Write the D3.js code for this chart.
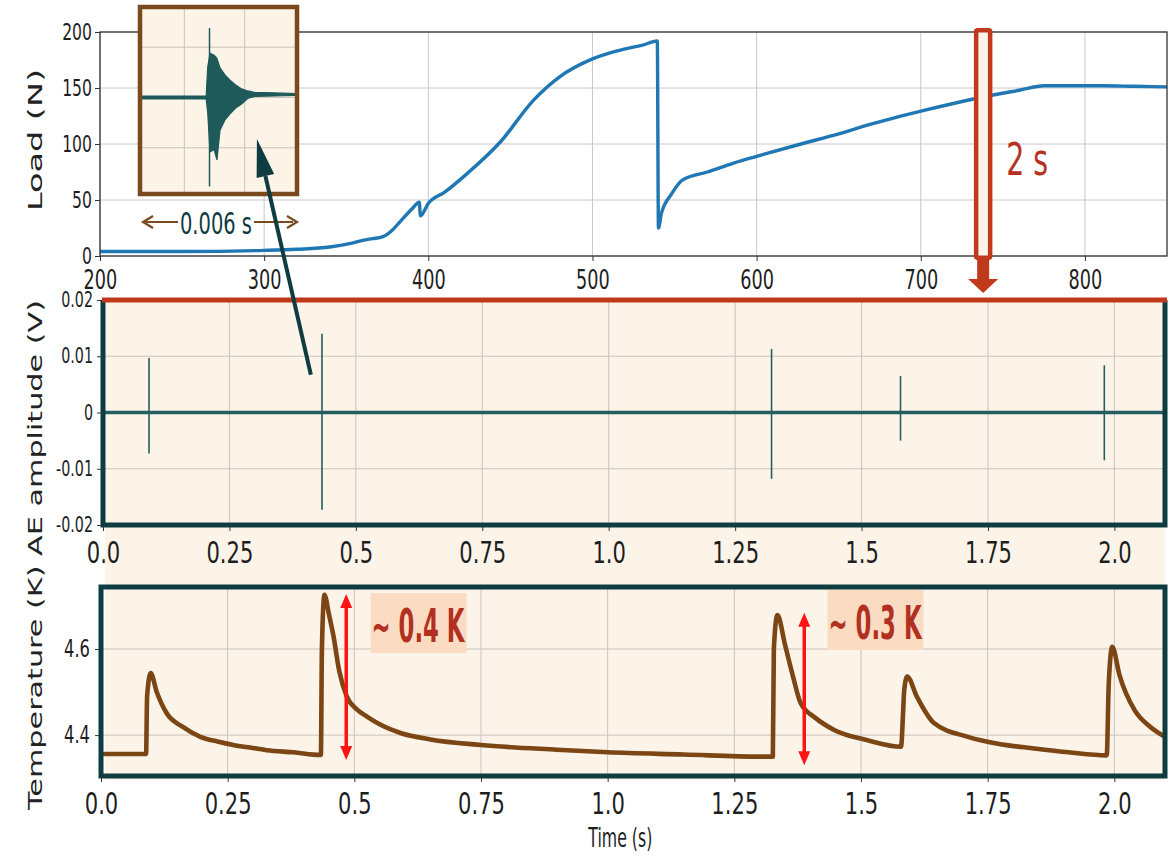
<!DOCTYPE html>
<html>
<head>
<meta charset="utf-8">
<script src="https://cdn.jsdelivr.net/npm/d3@7"></script>
<style>
    body { margin: 0; background: #fff; }
    svg { display: block; font-family: "DejaVu Sans", sans-serif; }
</style>
</head>
<body>
<svg id="chart" width="1175" height="856"></svg>
<script>
"use strict";

// load curve (time in s, load in N)
const loadTime = [200, 250, 300, 320, 340, 352, 360, 366, 372, 378, 383, 390, 394.5, 395.2, 400, 410, 424, 444, 464, 480, 500, 520, 530, 539.5, 540.2, 542, 548, 555, 570, 586, 600, 627, 650, 668, 702, 738, 760, 775, 790, 810, 830, 850];
const loadValue = [4, 4, 5, 6, 8, 11, 14, 15.5, 17, 23, 31, 42, 48, 36, 47, 57, 74, 102, 139, 160, 176, 185, 188, 192, 25, 38, 55, 68, 75, 83, 89, 100, 109, 117, 130, 142, 148, 152, 152, 152, 151.5, 151];
const loadXTicks = [200, 300, 400, 500, 600, 700, 800];
const loadXLabels = ["200", "300", "400", "500", "600", "700", "800"];
const loadYTicks = [0, 50, 100, 150, 200];
const loadYLabels = ["0", "50", "100", "150", "200"];

// AE hits in the 2 s window (time, positive peak, negative peak in V)
const aeHitTime = [0.091, 0.433, 1.322, 1.577, 1.980];
const aeHitUp = [0.0097, 0.0140, 0.0113, 0.0065, 0.0084];
const aeHitDown = [-0.0073, -0.0173, -0.0118, -0.0050, -0.0085];
const aeYTicks = [-0.02, -0.01, 0, 0.01, 0.02];
const aeYLabels = ["-0.02", "-0.01", "0", "0.01", "0.02"];

// shared time ticks for the two lower panels
const timeTicks = [0, 0.25, 0.5, 0.75, 1.0, 1.25, 1.5, 1.75, 2.0];
const timeLabels = ["0.0", "0.25", "0.5", "0.75", "1.0", "1.25", "1.5", "1.75", "2.0"];

// temperature trace (time in s, temperature in K)
const tempTime = [0, 0.05, 0.089, 0.091, 0.098, 0.11, 0.13, 0.16, 0.196, 0.23, 0.261, 0.3, 0.327, 0.38, 0.434, 0.436, 0.441, 0.45, 0.459, 0.47, 0.485, 0.505, 0.525, 0.55, 0.591, 0.65, 0.75, 0.9, 1.0, 1.15, 1.3, 1.326, 1.328, 1.335, 1.35, 1.365, 1.381, 1.41, 1.447, 1.513, 1.579, 1.583, 1.585, 1.591, 1.61, 1.644, 1.711, 1.77, 1.842, 1.91, 1.985, 1.989, 1.996, 2.01, 2.04, 2.07, 2.1];
const tempValue = [4.356, 4.356, 4.356, 4.49, 4.544, 4.5, 4.45, 4.42, 4.396, 4.385, 4.377, 4.37, 4.365, 4.36, 4.354, 4.6, 4.726, 4.68, 4.629, 4.55, 4.49, 4.46, 4.443, 4.425, 4.405, 4.39, 4.377, 4.366, 4.36, 4.355, 4.35, 4.35, 4.6, 4.679, 4.61, 4.54, 4.474, 4.44, 4.412, 4.388, 4.373, 4.45, 4.5, 4.536, 4.49, 4.428, 4.396, 4.38, 4.369, 4.36, 4.353, 4.52, 4.605, 4.54, 4.458, 4.42, 4.396];
const tempYTicks = [4.4, 4.6];
const tempYLabels = ["4.4", "4.6"];

// inset: one AE burst, envelope of the waveform (time in s, V)
const burstTime = [0, 0.0025, 0.00256, 0.00265, 0.00281, 0.00292, 0.00304, 0.00323, 0.00342, 0.00365, 0.00388, 0.00412, 0.00438, 0.0052, 0.006];
const burstUp = [0.0003, 0.0003, 0.006, 0.0088, 0.0084, 0.0078, 0.0059, 0.0045, 0.0035, 0.0025, 0.0017, 0.0013, 0.0010, 0.0009, 0.0008];
const burstDown = [-0.0003, -0.0003, -0.003, -0.0108, -0.0104, -0.0124, -0.0065, -0.0045, -0.0033, -0.0021, -0.0013, -0.0002, 0.0002, 0.0003, 0.0004];
const burstSpike = { t: 0.00263, up: 0.0138, down: -0.0177 };

const svg = d3.select("#chart");
const teal = "#0f3c40";
const red = "#c0391b";
const peach = "#fdf4e9";
const grid = "#c9c3bc";
const squeezeK = 0.68;

// the figure is horizontally compressed: shrink text width only
function squeeze(sel, k) {
    sel.each(function () {
        const w = this.getComputedTextLength();
        d3.select(this)
            .attr("textLength", w * k)
            .attr("lengthAdjust", "spacingAndGlyphs");
    });
}

function styleAxis(g, size) {
    g.select(".domain").remove();
    g.selectAll("text")
        .attr("fill", "#1e1e1e")
        .style("font-size", `${size}px`)
        .style("font-family", "DejaVu Sans");
    g.selectAll("line").attr("stroke", "#333");
    squeeze(g.selectAll("text"), squeezeK);
}

// peach background behind the zoomed panels
svg.append("rect")
    .attr("x", 105).attr("y", 298)
    .attr("width", 1060).attr("height", 482)
    .attr("fill", peach);

// ---------- top panel: load ----------
const xLoad = d3.scaleLinear().domain([200, 850]).range([100, 1167]);
const yLoad = d3.scaleLinear().domain([0, 200]).range([256, 32]);

const loadPanel = svg.append("g");
loadPanel.append("g")
    .selectAll("line")
    .data(loadXTicks)
    .join("line")
    .attr("x1", d => xLoad(d)).attr("x2", d => xLoad(d))
    .attr("y1", yLoad(0)).attr("y2", yLoad(200))
    .attr("stroke", "#c8c8c8");
loadPanel.append("g")
    .selectAll("line")
    .data(loadYTicks)
    .join("line")
    .attr("x1", xLoad(200)).attr("x2", xLoad(850))
    .attr("y1", d => yLoad(d)).attr("y2", d => yLoad(d))
    .attr("stroke", "#c8c8c8");

loadPanel.append("path")
    .datum(loadTime.map((t, i) => [t, loadValue[i]]))
    .attr("fill", "none")
    .attr("stroke", "#1f77b4")
    .attr("stroke-width", 3.4)
    .attr("stroke-linejoin", "round")
    .attr("d", d3.line().curve(d3.curveMonotoneX)
        .x(d => xLoad(d[0])).y(d => yLoad(d[1])));

loadPanel.append("rect")
    .attr("x", xLoad(200)).attr("y", yLoad(200))
    .attr("width", xLoad(850) - xLoad(200))
    .attr("height", yLoad(0) - yLoad(200))
    .attr("fill", "none")
    .attr("stroke", "#333")
    .attr("stroke-width", 1.3);

loadPanel.append("g")
    .attr("transform", `translate(0,${yLoad(0)})`)
    .call(d3.axisBottom(xLoad).tickValues(loadXTicks)
        .tickFormat((d, i) => loadXLabels[i]).tickSize(5).tickPadding(10))
    .call(g => styleAxis(g, 26));
loadPanel.append("g")
    .attr("transform", `translate(${xLoad(200)},0)`)
    .call(d3.axisLeft(yLoad).tickValues(loadYTicks)
        .tickFormat((d, i) => loadYLabels[i]).tickSize(5).tickPadding(3))
    .call(g => styleAxis(g, 23));

// ---------- middle panel: AE amplitude ----------
const xAE = d3.scaleLinear().domain([0, 2.1]).range([103, 1165]);
const yAE = d3.scaleLinear().domain([-0.02, 0.02]).range([525, 300]);

const aePanel = svg.append("g");
aePanel.append("g")
    .selectAll("line")
    .data(timeTicks)
    .join("line")
    .attr("x1", d => xAE(d)).attr("x2", d => xAE(d))
    .attr("y1", yAE(-0.02)).attr("y2", yAE(0.02))
    .attr("stroke", grid);
aePanel.append("g")
    .selectAll("line")
    .data(aeYTicks)
    .join("line")
    .attr("x1", xAE(0)).attr("x2", xAE(2.1))
    .attr("y1", d => yAE(d)).attr("y2", d => yAE(d))
    .attr("stroke", grid);

aePanel.append("line")
    .attr("x1", xAE(0)).attr("x2", xAE(2.1))
    .attr("y1", yAE(0)).attr("y2", yAE(0))
    .attr("stroke", "#245e5e")
    .attr("stroke-width", 3.5);
aePanel.append("g")
    .selectAll("line")
    .data(aeHitTime)
    .join("line")
    .attr("x1", d => xAE(d)).attr("x2", d => xAE(d))
    .attr("y1", (d, i) => yAE(aeHitUp[i]))
    .attr("y2", (d, i) => yAE(aeHitDown[i]))
    .attr("stroke", "#245e5e")
    .attr("stroke-width", 1.6);

aePanel.append("path")
    .attr("d", `M${xAE(0)},${yAE(0.02)}V${yAE(-0.02)}H${xAE(2.1)}V${yAE(0.02)}`)
    .attr("fill", "none")
    .attr("stroke", teal)
    .attr("stroke-width", 5);
aePanel.append("line")
    .attr("x1", xAE(0) - 1).attr("x2", xAE(2.1) + 2)
    .attr("y1", yAE(0.02)).attr("y2", yAE(0.02))
    .attr("stroke", red)
    .attr("stroke-width", 5);

aePanel.append("g")
    .attr("transform", `translate(0,${yAE(-0.02) + 2})`)
    .call(d3.axisBottom(xAE).tickValues(timeTicks)
        .tickFormat((d, i) => timeLabels[i]).tickSize(4).tickPadding(10))
    .call(g => styleAxis(g, 31));
aePanel.append("g")
    .attr("transform", `translate(${xAE(0) - 2},0)`)
    .call(d3.axisLeft(yAE).tickValues(aeYTicks)
        .tickFormat((d, i) => aeYLabels[i]).tickSize(4).tickPadding(4))
    .call(g => styleAxis(g, 21));

// ---------- bottom panel: temperature ----------
const xT = d3.scaleLinear().domain([0, 2.1]).range([101, 1165]);
const yT = d3.scaleLinear().domain([4.305, 4.744]).range([776, 587]);

const tempPanel = svg.append("g");
tempPanel.append("g")
    .selectAll("line")
    .data(timeTicks)
    .join("line")
    .attr("x1", d => xT(d)).attr("x2", d => xT(d))
    .attr("y1", yT(4.305)).attr("y2", yT(4.744))
    .attr("stroke", grid);
tempPanel.append("g")
    .selectAll("line")
    .data(tempYTicks)
    .join("line")
    .attr("x1", xT(0)).attr("x2", xT(2.1))
    .attr("y1", d => yT(d)).attr("y2", d => yT(d))
    .attr("stroke", grid);

tempPanel.append("path")
    .datum(tempTime.map((t, i) => [t, tempValue[i]]))
    .attr("fill", "none")
    .attr("stroke", "#7b4514")
    .attr("stroke-width", 4.6)
    .attr("stroke-linejoin", "round")
    .attr("d", d3.line().curve(d3.curveMonotoneX)
        .x(d => xT(d[0])).y(d => yT(d[1])));

tempPanel.append("rect")
    .attr("x", xT(0)).attr("y", yT(4.744))
    .attr("width", xT(2.1) - xT(0))
    .attr("height", yT(4.305) - yT(4.744))
    .attr("fill", "none")
    .attr("stroke", teal)
    .attr("stroke-width", 5);

tempPanel.append("g")
    .attr("transform", `translate(0,${yT(4.305) + 2})`)
    .call(d3.axisBottom(xT).tickValues(timeTicks)
        .tickFormat((d, i) => timeLabels[i]).tickSize(4).tickPadding(10))
    .call(g => styleAxis(g, 31));
tempPanel.append("g")
    .attr("transform", `translate(${xT(0) - 2},0)`)
    .call(d3.axisLeft(yT).tickValues(tempYTicks)
        .tickFormat((d, i) => tempYLabels[i]).tickSize(4).tickPadding(5))
    .call(g => styleAxis(g, 24));

// temperature jump annotations
function doubleArrow(x, y1, y2) {
    const g = svg.append("g").attr("fill", "#ff1414").attr("stroke", "#ff1414");
    g.append("line")
        .attr("x1", x).attr("x2", x)
        .attr("y1", y1 + 10).attr("y2", y2 - 10)
        .attr("stroke-width", 3.5);
    g.append("path")
        .attr("stroke", "none")
        .attr("d", `M${x},${y1}L${x - 6},${y1 + 14}L${x + 6},${y1 + 14}Z`);
    g.append("path")
        .attr("stroke", "none")
        .attr("d", `M${x},${y2}L${x - 6},${y2 - 14}L${x + 6},${y2 - 14}Z`);
}
doubleArrow(xT(0.484), yT(4.728), yT(4.342));
doubleArrow(xT(1.388), yT(4.684), yT(4.33));

function jumpLabel(t, v, text) {
    const x0 = xT(t), y0 = yT(v);
    svg.append("rect")
        .attr("x", x0).attr("y", y0)
        .attr("width", 96).attr("height", 60)
        .attr("fill", "#fbdcc3");
    svg.append("text")
        .attr("x", x0 + 1).attr("y", y0 + 49)
        .attr("fill", "#b2301f")
        .attr("font-weight", "bold")
        .attr("font-size", 46)
        .attr("textLength", 93)
        .attr("lengthAdjust", "spacingAndGlyphs")
        .text(text);
}
jumpLabel(0.532, 4.73, "~ 0.4 K");
jumpLabel(1.434, 4.737, "~ 0.3 K");

// ---------- 2 s window marker on the load curve ----------
const winX = xLoad(738);
svg.append("rect")
    .attr("x", winX - 7).attr("y", yLoad(201.5))
    .attr("width", 14).attr("height", yLoad(-1.5) - yLoad(201.5))
    .attr("rx", 1.5)
    .attr("fill", peach)
    .attr("stroke", red)
    .attr("stroke-width", 4.5);
svg.append("path")
    .attr("fill", red)
    .attr("d", `M${winX - 6},260V279H${winX - 15}L${winX},293L${winX + 15},279H${winX + 6}V260Z`);
svg.append("text")
    .attr("x", winX + 23).attr("y", yLoad(72))
    .attr("fill", "#b5311f")
    .attr("font-size", 44)
    .attr("textLength", 42)
    .attr("lengthAdjust", "spacingAndGlyphs")
    .text("2 s");

// ---------- inset: single AE burst ----------
const xIn = d3.scaleLinear().domain([0, 0.006]).range([142, 296]);
const yIn = d3.scaleLinear().domain([-0.0192, 0.018]).range([194, 7]);

const inset = svg.append("g");
inset.append("rect")
    .attr("x", 140).attr("y", 7)
    .attr("width", 157).attr("height", 187)
    .attr("fill", "#fdf4e8");
inset.append("g")
    .selectAll("line")
    .data([0.00165, 0.004])
    .join("line")
    .attr("x1", d => xIn(d)).attr("x2", d => xIn(d))
    .attr("y1", 7).attr("y2", 194)
    .attr("stroke", grid);
inset.append("g")
    .selectAll("line")
    .data([0.01, 0, -0.01])
    .join("line")
    .attr("x1", 140).attr("x2", 297)
    .attr("y1", d => yIn(d)).attr("y2", d => yIn(d))
    .attr("stroke", grid);
inset.append("path")
    .datum(burstTime.map((t, i) => [t, burstUp[i], burstDown[i]]))
    .attr("fill", "#1f5a5a")
    .attr("stroke", "#1f5a5a")
    .attr("stroke-width", 1.2)
    .attr("d", d3.area().x(d => xIn(d[0])).y0(d => yIn(d[2])).y1(d => yIn(d[1])));
inset.append("line")
    .attr("x1", xIn(burstSpike.t)).attr("x2", xIn(burstSpike.t))
    .attr("y1", yIn(burstSpike.up)).attr("y2", yIn(burstSpike.down))
    .attr("stroke", "#1f5a5a")
    .attr("stroke-width", 1.5);
inset.append("rect")
    .attr("x", 140).attr("y", 7)
    .attr("width", 157).attr("height", 187)
    .attr("fill", "none")
    .attr("stroke", "#7a4a1e")
    .attr("stroke-width", 4.5);

// 0.006 s span arrow
const spanY = 222;
svg.append("line")
    .attr("x1", 146).attr("x2", 293)
    .attr("y1", spanY).attr("y2", spanY)
    .attr("stroke", "#7a4a1e")
    .attr("stroke-width", 2.2);
svg.append("path")
    .attr("fill", "none")
    .attr("stroke", "#7a4a1e")
    .attr("stroke-width", 2.2)
    .attr("d", `M153,${spanY - 6}L143,${spanY}L153,${spanY + 6}M287,${spanY - 6}L297,${spanY}L287,${spanY + 6}`);
svg.append("rect")
    .attr("x", 178).attr("y", spanY - 14)
    .attr("width", 76).attr("height", 28)
    .attr("fill", "#fff");
svg.append("text")
    .attr("x", 180).attr("y", spanY + 12)
    .attr("fill", teal)
    .attr("font-size", 31)
    .attr("textLength", 72)
    .attr("lengthAdjust", "spacingAndGlyphs")
    .text("0.006 s");

// arrow from the AE hit up to the inset
const tail = [xAE(0.411), yAE(0.0067)];
const tip = [xLoad(295.6), yLoad(104.5)];
const ang = Math.atan2(tip[1] - tail[1], tip[0] - tail[0]);
const headLen = 38, headW = 9;
const base = [tip[0] - headLen * Math.cos(ang), tip[1] - headLen * Math.sin(ang)];
svg.append("line")
    .attr("x1", tail[0]).attr("y1", tail[1])
    .attr("x2", base[0]).attr("y2", base[1])
    .attr("stroke", teal)
    .attr("stroke-width", 4);
svg.append("path")
    .attr("fill", teal)
    .attr("d", `M${tip[0]},${tip[1]}` +
        `L${base[0] + headW * Math.sin(ang)},${base[1] - headW * Math.cos(ang)}` +
        `L${base[0] - headW * Math.sin(ang)},${base[1] + headW * Math.cos(ang)}Z`);

// ---------- axis titles ----------
function vLabel(x, yc, len, text) {
    svg.append("text")
        .attr("transform", `translate(${x},${yc}) rotate(-90)`)
        .attr("text-anchor", "middle")
        .attr("fill", "#222")
        .attr("font-size", 20)
        .attr("textLength", len)
        .attr("lengthAdjust", "spacingAndGlyphs")
        .text(text);
}
vLabel(42, 140, 142, "Load (N)");
vLabel(42, 555, 510, "Temperature (K) AE amplitude (V)");

svg.append("text")
    .attr("x", xT(1.025)).attr("y", 847)
    .attr("text-anchor", "middle")
    .attr("fill", "#1e1e1e")
    .attr("font-size", 27)
    .attr("textLength", 64)
    .attr("lengthAdjust", "spacingAndGlyphs")
    .text("Time (s)");
</script>
</body>
</html>
